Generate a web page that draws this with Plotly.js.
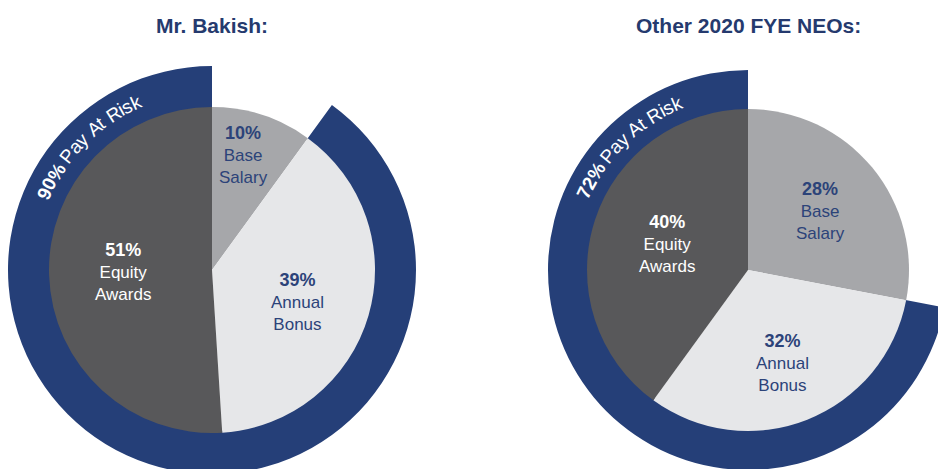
<!DOCTYPE html>
<html><head><meta charset="utf-8">
<script src="https://cdn.plot.ly/plotly-3.0.1.min.js"></script>
<style>html,body{margin:0;padding:0;overflow:hidden;background:#fff;width:938px;height:469px}#chart{width:1000px;height:520px}</style>
</head><body><div id="chart"></div>
<script>
// ---- data ----
const categories = ['Base Salary', 'Annual Bonus', 'Equity Awards'];
const bakishValues = [10, 39, 51];
const neoValues = [28, 32, 40];
const bakishAtRisk = 90;
const neoAtRisk = 72;
const chartTitles = ['Mr. Bakish:', 'Other 2020 FYE NEOs:'];
const ringText = 'Pay At Risk';

// ---- layout helpers ----
const W = 1000, H = 520;
const NAVY = '#253f78';
const sliceColors = ['#a6a7aa', '#e6e7e9', '#58585a'];
const labelColors = ['#2c4379', '#2c4379', '#ffffff'];
const FONT = 'Liberation Sans, Arial, sans-serif';

function dom(cx, cy, r) {
  return {x: [(cx - r) / W, (cx + r) / W], y: [1 - (cy + r) / H, 1 - (cy - r) / H]};
}
function px(x) { return x / W; }
function py(y) { return 1 - y / H; }

const charts = [
  {values: bakishValues, atRisk: bakishAtRisk, title: chartTitles[0], cx: 212, cy: 270, rIn: 163, rOut: 204,
   labelPos: [[243, 155], [297, 302], [123, 272]], arcR: 184, arcMid: 315},
  {values: neoValues, atRisk: neoAtRisk, title: chartTitles[1], cx: 748, cy: 270, rIn: 161, rOut: 200,
   labelPos: [[820, 211], [782, 363], [667, 244]], arcR: 181, arcMid: 316}
];

const traces = [];
const annotations = [];
const ctx = document.createElement('canvas').getContext('2d');

charts.forEach(c => {
  // outer "pay at risk" ring: transparent fixed-pay gap first, then at-risk arc
  traces.push({
    type: 'pie', values: [100 - c.atRisk, c.atRisk], labels: ['Fixed', 'At Risk'],
    sort: false, direction: 'clockwise', rotation: 0, hole: (c.rIn - 2) / c.rOut,
    marker: {colors: ['rgba(0,0,0,0)', NAVY], line: {width: 0}},
    textinfo: 'none', hoverinfo: 'skip', showlegend: false,
    domain: dom(c.cx, c.cy, c.rOut)
  });
  // inner pie
  traces.push({
    type: 'pie', values: c.values, labels: categories,
    sort: false, direction: 'clockwise', rotation: 0,
    marker: {colors: sliceColors, line: {width: 0}},
    textinfo: 'none', hoverinfo: 'skip', showlegend: false,
    domain: dom(c.cx, c.cy, c.rIn)
  });
  // title
  annotations.push({
    text: '<b>' + c.title + '</b>', xref: 'paper', yref: 'paper', x: px(c.cx), y: py(25),
    xanchor: 'center', yanchor: 'middle', showarrow: false,
    font: {family: FONT, size: 21, color: '#253a6e'}
  });
  // slice labels
  categories.forEach((cat, i) => {
    annotations.push({
      text: '<span style="font-size:18px"><b>' + c.values[i] + '%</b></span><br>' + cat.split(' ').join('<br>'),
      xref: 'paper', yref: 'paper', x: px(c.labelPos[i][0]), y: py(c.labelPos[i][1]),
      xanchor: 'center', yanchor: 'middle', showarrow: false, align: 'center',
      font: {family: FONT, size: 17, color: labelColors[i]}
    });
  });
  // curved ring text, one character at a time
  const parts = [];
  const pct = c.atRisk + '%';
  for (const ch of pct) parts.push({ch, bold: true});
  parts.push({ch: ' ', bold: false});
  for (const ch of ringText) parts.push({ch, bold: false});
  const size = 19;
  parts.forEach(p => {
    ctx.font = (p.bold ? 'bold ' : '') + size + 'px ' + FONT;
    p.w = ctx.measureText(p.ch).width;
  });
  const total = parts.reduce((s, p) => s + p.w, 0);
  const span = total / c.arcR * 180 / Math.PI;
  let s = 0;
  parts.forEach(p => {
    const ang = c.arcMid - span / 2 + (s + p.w / 2) / c.arcR * 180 / Math.PI;
    s += p.w;
    if (p.ch === ' ') return;
    const rad = ang * Math.PI / 180;
    const x = c.cx + c.arcR * Math.sin(rad);
    const y = c.cy - c.arcR * Math.cos(rad);
    annotations.push({
      text: p.bold ? '<b>' + p.ch + '</b>' : p.ch,
      xref: 'paper', yref: 'paper', x: px(x), y: py(y),
      xanchor: 'center', yanchor: 'middle', showarrow: false, textangle: ang - 360,
      font: {family: FONT, size: size, color: '#ffffff'}
    });
  });
});

Plotly.newPlot('chart', traces, {
  width: W, height: H, margin: {l: 0, r: 0, t: 0, b: 0},
  paper_bgcolor: '#ffffff', plot_bgcolor: '#ffffff',
  showlegend: false, annotations: annotations
}, {staticPlot: true, displayModeBar: false});
</script></body></html>
